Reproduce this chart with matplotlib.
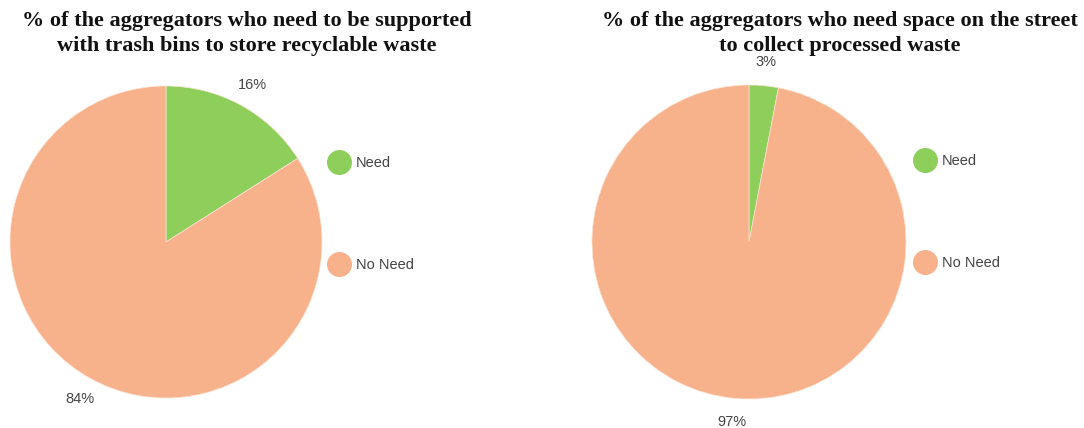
import matplotlib
matplotlib.use("Agg")
import matplotlib.pyplot as plt
from matplotlib.lines import Line2D

# Survey answers (percent of aggregators)
categories = ["Need", "No Need"]
bins_share = [16, 84]
street_share = [3, 97]

titles = [
    "% of the aggregators who need to be supported\nwith trash bins to store recyclable waste",
    "% of the aggregators who need space on the street\nto collect processed waste",
]
colors = ["#8dcf5a", "#f7b28b"]
text_grey = "#444444"

W, H = 1084, 428
fig = plt.figure(figsize=(W / 100, H / 100), dpi=100)


def px_axes(cx, cy, r):
    """Square axes of radius r pixels centred at (cx, cy) from the top-left."""
    return fig.add_axes([(cx - r) / W, (H - cy - r) / H, 2 * r / W, 2 * r / H])


def draw_pie(ax, values):
    wedges, texts, autotexts = ax.pie(
        values, colors=colors, startangle=90, counterclock=False,
        autopct="%1.0f%%", pctdistance=1.15, radius=1.0,
        wedgeprops=dict(linewidth=0.5, edgecolor="#fbe3d4"),
        textprops=dict(color=text_grey, fontsize=10.5, family="Liberation Sans"),
    )
    ax.set_xlim(-1, 1)
    ax.set_ylim(-1, 1)
    ax.set_aspect("equal")
    ax.axis("off")
    for t in autotexts:
        t.set_clip_on(False)
    return wedges


handles = [Line2D([], [], linestyle="none", marker="o", markersize=17,
                  markerfacecolor=c, markeredgecolor=c) for c in colors]

# centre x, centre y, radius, values, title centre, legend x, legend y
pies = [(166, 242, 156, bins_share, 247, 341, 143),
        (749, 242, 157, street_share, 840, 927, 141)]
for (cx, cy, r, vals, tx, lx, ly), title in zip(pies, titles):
    ax = px_axes(cx, cy, r)
    draw_pie(ax, vals)
    fig.text(tx / W, 1 - 11 / H, title, ha="center", va="top",
             family="Liberation Serif", fontweight="bold", fontsize=16,
             linespacing=1.3, color="#111111")
    fig.legend(handles, categories, loc="upper left",
               bbox_to_anchor=((lx - 24) / W, 1 - ly / H), frameon=False,
               labelspacing=6.0, handletextpad=0.55,
               handlelength=1.2, labelcolor=text_grey,
               prop=dict(family="Liberation Sans", size=10.5))

fig.savefig("out.png", dpi=100)
